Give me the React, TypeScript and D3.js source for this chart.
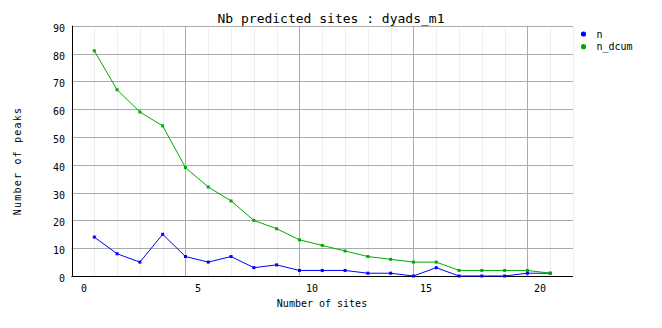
import React from "react";
import * as d3 from "d3";

const sites = [0, 1, 2, 3, 4, 5, 6, 7, 8, 9, 10, 11, 12, 13, 14, 15, 16, 17, 18, 19, 20];
const nValues = [14, 8, 5, 15, 7, 5, 7, 3, 4, 2, 2, 2, 1, 1, 0, 3, 0, 0, 0, 1, 1];
const nDcumValues = [81, 67, 59, 54, 39, 32, 27, 20, 17, 13, 11, 9, 7, 6, 5, 5, 2, 2, 2, 2, 1];
const xTickLabels = [0, 5, 10, 15, 20];
const yTicks = [0, 10, 20, 30, 40, 50, 60, 70, 80, 90];
const seriesNames = ["n", "n_dcum"];
const seriesColors = ["#0000ff", "#00aa00"];

const W = 662;
const H = 328;
const FONT = "'DejaVu Sans Mono', monospace";

export default function App() {
  const x = d3.scaleLinear().domain([-1, 21]).range([71.5, 573]);
  const y = d3.scaleLinear().domain([0, 90]).range([276, 25.8]);
  const minorX = d3.range(0, 22);
  const majorX = xTickLabels.map((v) => v - 1);

  const series = [nValues, nDcumValues];
  const line = d3
    .line<number>()
    .x((_, i) => x(sites[i]))
    .y((d) => y(d));

  const [x0, x1] = x.range();

  return (
    <svg
      width={W}
      height={H}
      style={{ position: "absolute", left: 0, top: 0, background: "#fff" }}
      fontFamily={FONT}
    >
      <rect x={0} y={0} width={W} height={H} fill="#fff" />
      {/* minor vertical grid */}
      {minorX.map((v) => (
        <line
          key={"mx" + v}
          x1={Math.round(x(v)) + 0.5}
          x2={Math.round(x(v)) + 0.5}
          y1={y(90)}
          y2={y(0)}
          stroke="#eeeeee"
        />
      ))}
      {/* major vertical grid */}
      {majorX.map((v) => (
        <line
          key={"Mx" + v}
          x1={Math.round(x(v)) + 0.5}
          x2={Math.round(x(v)) + 0.5}
          y1={y(90)}
          y2={y(0)}
          stroke="#aaaaaa"
        />
      ))}
      {/* horizontal grid */}
      {yTicks.map((t) => (
        <line
          key={"gy" + t}
          x1={x0}
          x2={x1}
          y1={Math.round(y(t)) + 0.5}
          y2={Math.round(y(t)) + 0.5}
          stroke="#aaaaaa"
        />
      ))}
      {/* axes */}
      <line x1={Math.round(x0) + 0.5} x2={Math.round(x0) + 0.5} y1={y(90)} y2={y(0) + 0.5} stroke="#000" />
      <line x1={x0} x2={x1} y1={Math.round(y(0)) + 0.5} y2={Math.round(y(0)) + 0.5} stroke="#000" />

      {/* y tick labels */}
      {yTicks.map((t) => (
        <text key={"ty" + t} x={65} y={y(t) + 6} fontSize={10} textAnchor="end" fill="#000">
          {t}
        </text>
      ))}
      {/* x tick labels */}
      {xTickLabels.map((t) => (
        <text key={"tx" + t} x={x(t - 0.45)} y={291.5} fontSize={10} textAnchor="middle" fill="#000">
          {t}
        </text>
      ))}

      {/* series */}
      {series.map((vals, si) => (
        <g key={"s" + si}>
          <path d={line(vals) || ""} fill="none" stroke={seriesColors[si]} strokeWidth={1} />
          {vals.map((v, i) => (
            <rect
              key={i}
              x={x(sites[i]) - 1.5}
              y={y(v) - 1.5}
              width={3}
              height={3}
              fill={seriesColors[si]}
            />
          ))}
        </g>
      ))}

      {/* title */}
      <text x={331} y={22.5} fontSize={13} textAnchor="middle" fill="#000">
        Nb predicted sites : dyads_m1
      </text>
      {/* axis titles */}
      <text x={322} y={306.5} fontSize={10} textAnchor="middle" fill="#000">
        Number of sites
      </text>
      <text
        transform={`translate(21,161) rotate(-90)`}
        fontSize={10}
        letterSpacing={1.2}
        textAnchor="middle"
        fill="#000"
      >
        Number of peaks
      </text>

      {/* legend */}
      {seriesNames.map((name, i) => (
        <g key={"lg" + name}>
          <circle cx={583.5} cy={34 + i * 12.7} r={2.6} fill={seriesColors[i]} />
          <text x={596.5} y={37.5 + i * 12.7} fontSize={10} fill="#000">
            {name}
          </text>
        </g>
      ))}
    </svg>
  );
}
